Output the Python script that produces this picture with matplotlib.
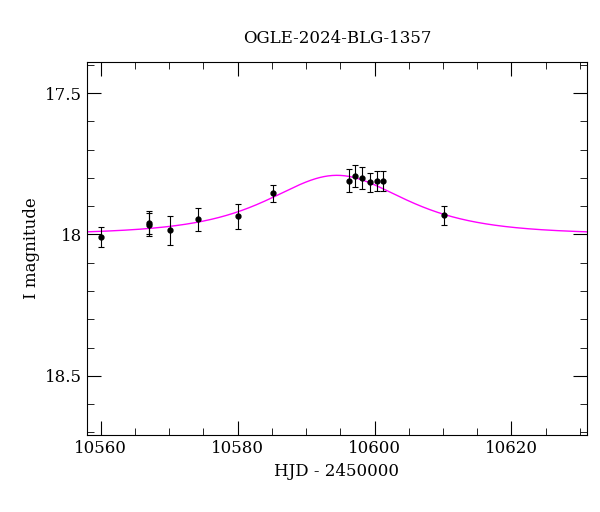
import numpy as np
import matplotlib
matplotlib.use("Agg")
import matplotlib.pyplot as plt
from matplotlib.ticker import MultipleLocator

title = "OGLE-2024-BLG-1357"
hjd = [10560.1, 10567.0, 10567.1, 10570.1, 10574.2, 10580.1, 10585.1,
       10596.2, 10597.2, 10598.2, 10599.3, 10600.3, 10601.3, 10610.2]
mag = [18.01, 17.965, 17.958, 17.986, 17.947, 17.936, 17.855,
       17.81, 17.793, 17.80, 17.816, 17.81, 17.81, 17.933]
err = [0.035, 0.04, 0.04, 0.05, 0.04, 0.045, 0.03,
       0.04, 0.04, 0.04, 0.035, 0.035, 0.035, 0.035]
# Paczynski model parameters
t0, u0, tE, Ibase = 10594.5, 1.24, 10.6, 18.0

plt.rcParams["font.family"] = "DejaVu Serif"
fig = plt.figure(figsize=(6, 5.12), dpi=100)
ax = fig.add_axes([0.145, 0.150, 0.833, 0.729])

t = np.linspace(10558, 10631, 600)
u = np.sqrt(u0**2 + ((t - t0) / tE)**2)
A = (u**2 + 2) / (u * np.sqrt(u**2 + 4))
ax.plot(t, Ibase - 2.5*np.log10(A), color="magenta", lw=1)
ax.errorbar(hjd, mag, yerr=err, fmt="o", ms=3.5, color="black",
            ecolor="black", elinewidth=0.8, capsize=2.5, capthick=0.8)

ax.set_xlim(10558, 10631)
ax.set_ylim(18.71, 17.39)
ax.xaxis.set_major_locator(MultipleLocator(20))
ax.xaxis.set_minor_locator(MultipleLocator(5))
ax.yaxis.set_major_locator(MultipleLocator(0.5))
ax.yaxis.set_minor_locator(MultipleLocator(0.1))
ax.yaxis.set_major_formatter(matplotlib.ticker.FuncFormatter(lambda v, p: f"{v:g}"))
ax.tick_params(which="both", direction="in", top=True, right=True, labelsize=12)
ax.tick_params(which="major", length=10)
ax.tick_params(which="minor", length=5)
ax.set_xlabel("HJD - 2450000", fontsize=12)
ax.set_ylabel("I magnitude", fontsize=12)
ax.set_title(title, fontsize=12, pad=14)
fig.savefig("out.png", dpi=100)
